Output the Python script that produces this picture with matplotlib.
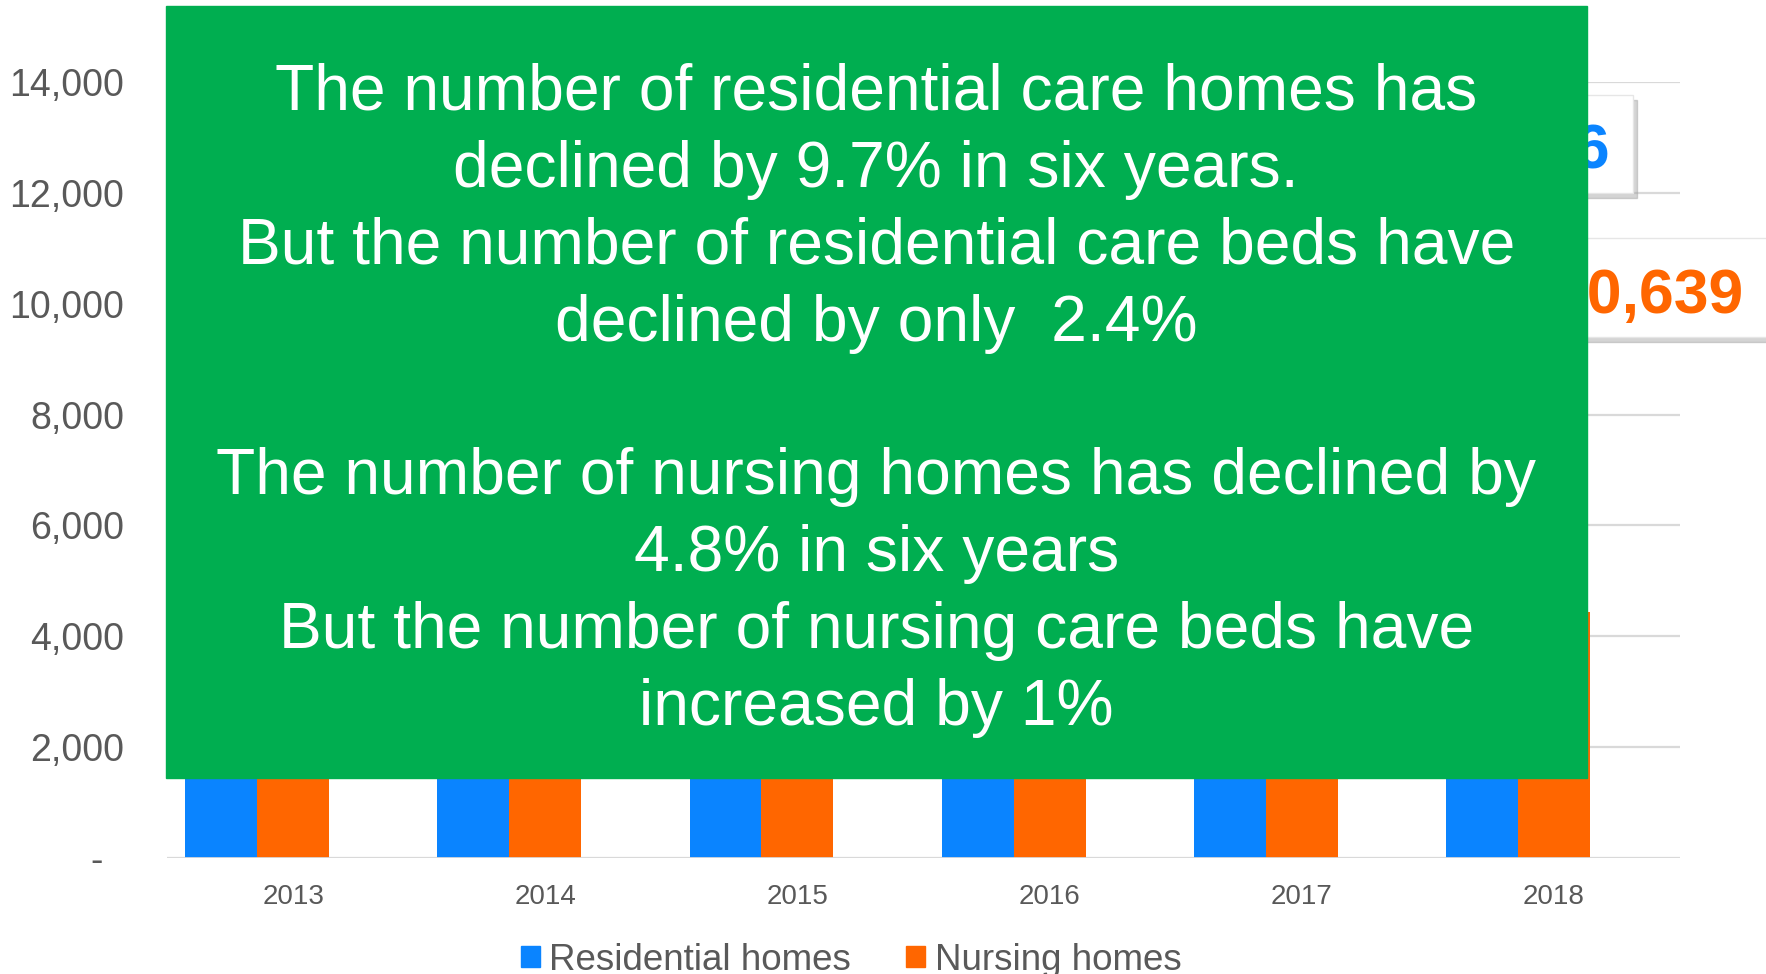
import matplotlib
matplotlib.use("Agg")
import matplotlib.pyplot as plt
from matplotlib.patches import Rectangle, Patch
from matplotlib.ticker import FuncFormatter
import numpy as np

# data (most bars are hidden behind the green note)
years = ['2013', '2014', '2015', '2016', '2017', '2018']
residential_homes = [12510, 12240, 11960, 11730, 11500, 11296]
nursing_homes = [4661, 4620, 4570, 4530, 4480, 4437]

callout_blue = '11,296'
callout_orange = '10,639'

note_lines = [
    'The number of residential care homes has',
    'declined by 9.7% in six years.',
    'But the number of residential care beds have',
    'declined by only  2.4%',
    '',
    'The number of nursing homes has declined by',
    '4.8% in six years',
    'But the number of nursing care beds have',
    'increased by 1%',
]

BLUE = '#0a84ff'
ORANGE = '#ff6600'
GREEN = '#00ae50'
GREY_TXT = '#595959'
GRID = '#d9d9d9'

W, H = 1766, 974
plt.rcParams['font.family'] = ['Liberation Sans', 'DejaVu Sans']

fig = plt.figure(figsize=(W / 100, H / 100), dpi=100)


def fx(px):
    return px / W


def fy(py):
    return 1 - py / H


ax = fig.add_axes([fx(167), fy(858), fx(1680) - fx(167), fy(82) - fy(858)])

x = np.arange(len(years))
bw = 0.285
ax.bar(x - bw, residential_homes, bw, color=BLUE, zorder=2)
ax.bar(x, nursing_homes, bw, color=ORANGE, zorder=2)

ax.set_xlim(-0.5, len(years) - 0.5)
ax.set_ylim(0, 14000)
ax.set_yticks(np.arange(0, 14001, 2000))
ax.yaxis.set_major_formatter(FuncFormatter(lambda v, p: '-  ' if v == 0 else f'{int(v):,}'))
ax.set_xticks(x)
ax.set_xticklabels(years)
ax.tick_params(axis='y', length=0, pad=31, labelsize=27, labelcolor=GREY_TXT)
ax.tick_params(axis='x', length=0, pad=18.5, labelsize=20, labelcolor=GREY_TXT)
ax.grid(axis='y', color=GRID, lw=1.6, zorder=0)
for s in ax.spines.values():
    s.set_visible(False)
ax.axhline(0, color=GRID, lw=2, zorder=3)

# callout boxes on the right (mostly covered by the note)
def callout(x0, x1, y0, y1, text, color, tx, ty):
    fig.patches.append(Rectangle((fx(x0 + 4), fy(y1 + 5)), fx(x1) - fx(x0), fy(y0) - fy(y1),
                                 transform=fig.transFigure, color='#a0a0a0', alpha=0.45, zorder=1))
    fig.patches.append(Rectangle((fx(x0), fy(y1)), fx(x1) - fx(x0), fy(y0) - fy(y1),
                                 transform=fig.transFigure, facecolor='white',
                                 edgecolor='#e6e6e6', lw=1, zorder=2))
    fig.text(fx(tx), fy(ty), text, color=color, fontsize=45, fontweight='bold',
             ha='right', va='baseline', zorder=3)

callout(1400, 1633, 95, 193, callout_blue, BLUE, 1610, 168)
callout(1440, 1790, 238, 337, callout_orange, ORANGE, 1743, 313)

# green note box
fig.patches.append(Rectangle((fx(165.5), fy(777.5)), fx(1587) - fx(165.5), fy(6) - fy(777.5),
                             transform=fig.transFigure, color=GREEN, zorder=4))
cx = (165.5 + 1587) / 2
for i, line in enumerate(note_lines):
    fig.text(fx(cx), fy(110 + i * 76.9), line, color='white', fontsize=46.2,
             ha='center', va='baseline', zorder=5)

handles = [Patch(color=BLUE, label='Residential homes'),
           Patch(color=ORANGE, label='Nursing homes')]
fig.legend(handles=handles, loc='center', bbox_to_anchor=(fx(851), fy(960)), ncol=2,
           frameon=False, fontsize=26.5, handlelength=0.52, handleheight=0.52,
           handletextpad=0.25, columnspacing=1.5, labelcolor=GREY_TXT)

fig.savefig('out.png', dpi=100)
